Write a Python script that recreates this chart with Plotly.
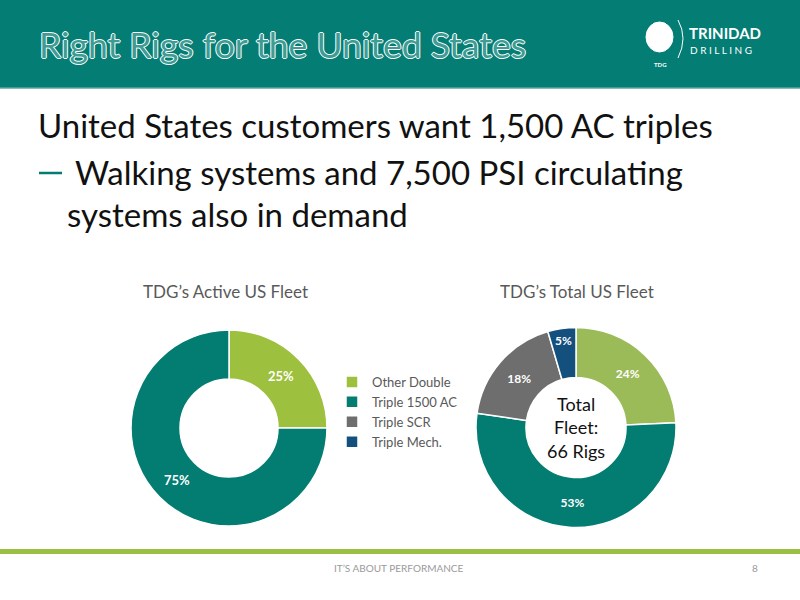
import plotly.graph_objects as go

W, H = 800, 600

# ---- data ----
labels_active = ["Other Double", "Triple 1500 AC"]
values_active = [25, 75]
labels_total = ["Other Double", "Triple 1500 AC", "Triple SCR", "Triple Mech."]
values_total = [16, 35, 12, 3]
colors_active = ["#9DC03E", "#037C72"]
colors_total = ["#9BBB59", "#037C72", "#6E6E6E", "#14507E"]

title_text = "Right Rigs for the United States"
bullet1 = "United States customers want 1,500 AC triples"
bullet2a = "Walking systems and 7,500 PSI circulating"
bullet2b = "systems also in demand"
chart_title_active = "TDG’s Active US Fleet"
chart_title_total = "TDG’s Total US Fleet"
center_text = "Total<br>Fleet:<br>66 Rigs"
footer_text = "IT’S ABOUT PERFORMANCE"
page_no = "8"

FONT = "Lato, 'Open Sans', sans-serif"


def px(x):
    return x / W


def py(y):
    return 1 - y / H


fig = go.Figure()

fig.add_trace(go.Pie(
    labels=labels_active, values=values_active, hole=0.5, sort=False,
    direction="clockwise", rotation=0,
    marker=dict(colors=colors_active, line=dict(color="white", width=1.5)),
    textinfo="percent", texttemplate="%{percent:.0%}",
    textfont=dict(color="white", size=13, family=FONT, weight="bold"),
    insidetextorientation="horizontal",
    domain=dict(x=[px(131), px(327)], y=[py(526), py(330)]),
    showlegend=True,
))

fig.add_trace(go.Pie(
    labels=labels_total, values=values_total, hole=0.5, sort=False,
    direction="clockwise", rotation=0,
    marker=dict(colors=colors_total, line=dict(color="white", width=1.5)),
    textinfo="percent", texttemplate="%{percent:.0%}",
    textfont=dict(color="white", size=12, family=FONT, weight="bold"),
    insidetextorientation="horizontal",
    domain=dict(x=[px(476), px(676)], y=[py(528), py(327)]),
    showlegend=True,
))

shapes = [
    dict(type="rect", xref="paper", yref="paper", x0=0, x1=1, y0=py(88), y1=1,
         fillcolor="#047D74", line=dict(width=0), layer="below"),
    dict(type="line", xref="paper", yref="paper", x0=0, x1=1, y0=py(88), y1=py(88),
         line=dict(color="#5AA69F", width=1.5)),
    dict(type="rect", xref="paper", yref="paper", x0=0, x1=1, y0=py(554), y1=py(549),
         fillcolor="#9BBF42", line=dict(width=0)),
    # logo circle
    dict(type="circle", xref="paper", yref="paper", x0=px(646), x1=px(673), y0=py(52), y1=py(22),
         fillcolor="white", line=dict(color="white", width=1)),
    dict(type="path", xref="paper", yref="paper",
         path=f"M {px(678)},{py(20)} Q {px(688)},{py(38)} {px(678)},{py(58)}",
         line=dict(color="white", width=1)),
    # bullet dash
    dict(type="line", xref="paper", yref="paper", x0=px(39), x1=px(62), y0=py(173), y1=py(173),
         line=dict(color="#037C72", width=2.5)),
]

ann = []
ann.append(dict(text=title_text, x=px(37), y=py(45), xanchor="left", yanchor="middle",
                font=dict(family=FONT, size=35.5, color="#3E9C94",
                          shadow="1px 0 0 #fff, -1px 0 0 #fff, 0 1px 0 #fff, 0 -1px 0 #fff")))
ann.append(dict(text="TRINIDAD", x=px(687), y=py(33), xanchor="left", yanchor="middle",
                font=dict(family=FONT, size=15, color="white", weight="bold")))
ann.append(dict(text="D R I L L I N G", x=px(688), y=py(50), xanchor="left", yanchor="middle",
                font=dict(family=FONT, size=10, color="white")))
ann.append(dict(text="TDG", x=px(660), y=py(64), xanchor="center", yanchor="middle",
                font=dict(family=FONT, size=6, color="white", weight="bold")))
ann.append(dict(text=bullet1, x=px(36), y=py(125), xanchor="left", yanchor="middle",
                font=dict(family=FONT, size=33, color="#111111")))
ann.append(dict(text=bullet2a, x=px(73), y=py(172), xanchor="left", yanchor="middle",
                font=dict(family=FONT, size=33, color="#111111")))
ann.append(dict(text=bullet2b, x=px(65), y=py(214), xanchor="left", yanchor="middle",
                font=dict(family=FONT, size=33, color="#111111")))
ann.append(dict(text=chart_title_active, x=px(226), y=py(291), xanchor="center", yanchor="middle",
                font=dict(family=FONT, size=17, color="#595959")))
ann.append(dict(text=chart_title_total, x=px(577), y=py(291), xanchor="center", yanchor="middle",
                font=dict(family=FONT, size=17, color="#595959")))
ann.append(dict(text=center_text, x=px(576), y=py(427), xanchor="center", yanchor="middle",
                font=dict(family=FONT, size=18, color="#111111")))
ann.append(dict(text=footer_text, x=px(332), y=py(568), xanchor="left", yanchor="middle",
                font=dict(family=FONT, size=10, color="#9A9A9A")))
ann.append(dict(text=page_no, x=px(755), y=py(568), xanchor="center", yanchor="middle",
                font=dict(family=FONT, size=10, color="#9A9A9A")))
for a in ann:
    a.update(xref="paper", yref="paper", showarrow=False)

fig.update_layout(
    width=W, height=H, margin=dict(l=0, r=0, t=0, b=0),
    paper_bgcolor="white", plot_bgcolor="white",
    shapes=shapes, annotations=ann,
    legend=dict(x=px(332), y=py(367), xanchor="left", yanchor="top",
                font=dict(family=FONT, size=13, color="#595959"),
                bgcolor="rgba(0,0,0,0)", traceorder="normal", itemwidth=30),
)

fig.write_html("out.html", config={"displayModeBar": False},
               post_script="document.body.style.margin='0';document.body.style.overflow='hidden';")
